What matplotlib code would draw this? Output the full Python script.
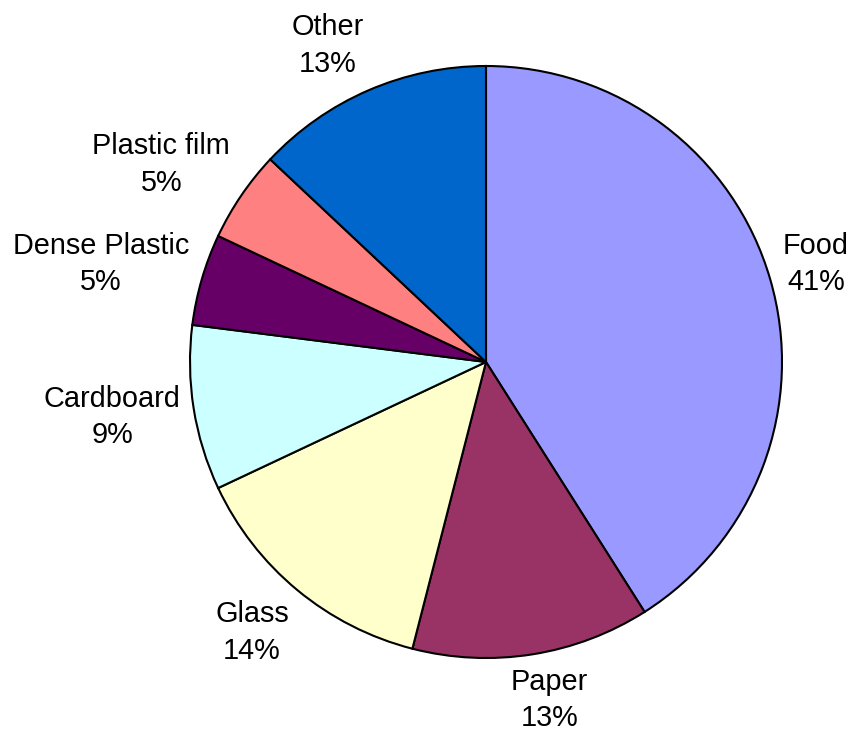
import numpy as np
import matplotlib
matplotlib.use("Agg")
import matplotlib.pyplot as plt

categories = ["Food", "Paper", "Glass", "Cardboard", "Dense Plastic", "Plastic film", "Other"]
values = [41, 13, 14, 9, 5, 5, 13]
colors = ["#9999FF", "#993366", "#FFFFCC", "#CCFFFF", "#660066", "#FF8080", "#0066CC"]

plt.rcParams['font.family'] = ['Liberation Sans', 'DejaVu Sans']

W, H, DPI = 849, 733, 100
fig = plt.figure(figsize=(W / DPI, H / DPI), dpi=DPI)
ax = fig.add_axes([0, 0, 1, 1])
cx, cy, R = 486, 362, 296  # pixel layout of the pie

wedges, _ = ax.pie(values, colors=colors, startangle=90, counterclock=False,
                   radius=1.0, center=(0, 0), frame=True,
                   wedgeprops=dict(edgecolor='black', linewidth=1.5))
ax.set_xlim(-cx / R, (W - cx) / R)
ax.set_ylim(-(H - cy) / R, cy / R)
ax.set_aspect('equal')
ax.axis('off')

total = sum(values)
renderer = fig.canvas.get_renderer()
rho = 1.045
kx, ky = 2.5, 1.3
cum = 0
for cat, v in zip(categories, values):
    mid = 90 - 360 * (cum + v / 2) / total
    cum += v
    th = np.deg2rad(mid)
    ux, uy = np.cos(th), np.sin(th)
    pct = round(100 * v / total)
    t = ax.text(0, 0, f"{cat}\n{pct}%", ha='center', va='center',
                multialignment='center', fontsize=20.8, color='black',
                linespacing=1.4)
    bb = t.get_window_extent(renderer=renderer)
    hw = bb.width / 2 / R
    hh = bb.height / 2 / R
    fx = np.sign(ux) * min(1.0, abs(ux) * kx)
    fy = np.sign(uy) * min(1.0, abs(uy) * ky)
    # anchor point of the box (facing the pie) sits on the mid-angle ray at rho
    px, py = rho * ux, rho * uy
    t.set_position((px + fx * hw, py + fy * hh))

fig.savefig("out.png", dpi=DPI)
